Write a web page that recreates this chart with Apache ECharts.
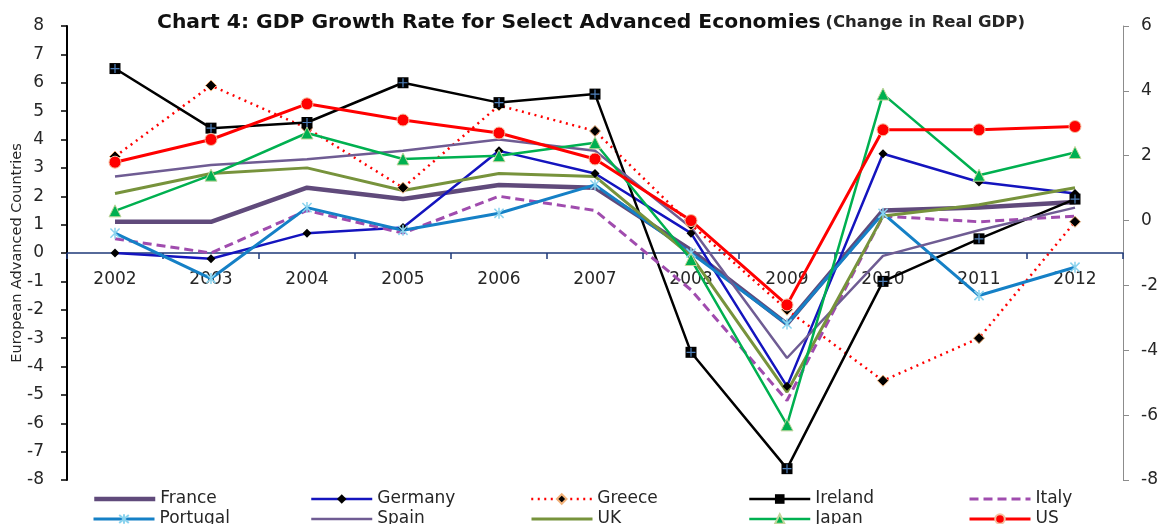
<!DOCTYPE html>
<html>
<head>
<meta charset="utf-8">
<script src="https://cdn.jsdelivr.net/npm/echarts@6/dist/echarts.min.js"></script>
<style>html,body{margin:0;padding:0;background:#fff;}#c{width:1164px;height:524px;}</style>
</head>
<body>
<div id="c"></div>
<script>
const years = ['2002','2003','2004','2005','2006','2007','2008','2009','2010','2011','2012'];
const leftTicks = [-8,-7,-6,-5,-4,-3,-2,-1,0,1,2,3,4,5,6,7,8];
const rightTicks = [-8,-6,-4,-2,0,2,4,6];
// European countries (left axis)
const france   = [1.1, 1.1, 2.3, 1.9, 2.4, 2.3, 0.1, -2.5, 1.5, 1.6, 1.8];
const germany  = [0.0, -0.2, 0.7, 0.9, 3.6, 2.8, 0.7, -4.7, 3.5, 2.5, 2.1];
const greece   = [3.4, 5.9, 4.4, 2.3, 5.2, 4.3, 1.0, -2.0, -4.5, -3.0, 1.1];
const ireland  = [6.5, 4.4, 4.6, 6.0, 5.3, 5.6, -3.5, -7.6, -1.0, 0.5, 1.9];
const italy    = [0.5, 0.0, 1.5, 0.7, 2.0, 1.5, -1.3, -5.2, 1.3, 1.1, 1.3];
const portugal = [0.7, -0.9, 1.6, 0.8, 1.4, 2.4, 0.0, -2.5, 1.4, -1.5, -0.5];
const spain    = [2.7, 3.1, 3.3, 3.6, 4.0, 3.6, 0.9, -3.7, -0.1, 0.8, 1.6];
const uk       = [2.1, 2.8, 3.0, 2.2, 2.8, 2.7, -0.1, -4.9, 1.3, 1.7, 2.3];
// Other advanced economies (right axis)
const japan    = [0.3, 1.4, 2.7, 1.9, 2.0, 2.4, -1.2, -6.3, 3.9, 1.4, 2.1];
const us       = [1.8, 2.5, 3.6, 3.1, 2.7, 1.9, 0.0, -2.6, 2.8, 2.8, 2.9];

const FONT = 'DejaVu Sans';
const W = 1164, H = 524;
const GRID = {left: 67, right: 41, top: 26, bottom: 44, outerBoundsMode: 'none', containLabel: false};
const chart = echarts.init(document.getElementById('c'));

const asterisk = 'path://M0,0L10,10M10,0L0,10M5,-1L5,11';
const crossPath = 'path://M5,0L5,10M0,5L10,5';

function line(name, data, color, width, opts) {
  return Object.assign({
    name: name, type: 'line', data: data, yAxisIndex: 0,
    lineStyle: {color: color, width: width},
    itemStyle: {color: color},
    symbol: 'none', showSymbol: true, symbolSize: 8,
    animation: false, emphasis: {disabled: true}
  }, opts || {});
}

const series = [
  line('France', france, '#604A7B', 4.5),
  line('Germany', germany, '#1414BE', 2.5, {symbol: 'diamond', symbolSize: 9, itemStyle: {color: '#000'}}),
  line('Greece', greece, '#FF0000', 2.5, {symbol: 'diamond', symbolSize: 11,
      lineStyle: {color: '#FF0000', width: 2.5, type: [2, 4.5]},
      itemStyle: {color: '#000', borderColor: '#F2B27A', borderWidth: 1}}),
  line('Ireland', ireland, '#000000', 2.5, {symbol: 'rect', symbolSize: 11, itemStyle: {color: '#000'}}),
  line('Italy', italy, '#A04CAE', 3, {lineStyle: {color: '#A04CAE', width: 3, type: [9, 5]}}),
  line('Portugal', portugal, '#1580C6', 3, {symbol: asterisk, symbolSize: 11, symbolKeepAspect: true,
      itemStyle: {color: 'rgba(0,0,0,0)', borderColor: '#8AD3EE', borderWidth: 1.5}}),
  line('Spain', spain, '#6F5C93', 2.5),
  line('UK', uk, '#77933C', 3),
  line('Japan', japan, '#00B050', 2.5, {yAxisIndex: 1, symbol: 'triangle', symbolSize: 12,
      itemStyle: {color: '#00B050', borderColor: '#C3D69B', borderWidth: 1}}),
  line('US', us, '#FF0000', 3, {yAxisIndex: 1, symbol: 'circle', symbolSize: 12,
      itemStyle: {color: '#FF0000', borderColor: '#F5C0A0', borderWidth: 1}}),
  // blue cross overlay on Ireland markers
  {name: 'IrelandCross', type: 'line', data: ireland, yAxisIndex: 0, lineStyle: {width: 0, opacity: 0},
   symbol: crossPath, symbolSize: 9, itemStyle: {color: 'rgba(0,0,0,0)', borderColor: '#4F81BD', borderWidth: 1.2},
   animation: false, emphasis: {disabled: true}, silent: true}
];

const noSymbol = ['France', 'Italy', 'Spain', 'UK'];
const legendCols = [92, 310, 530, 748, 968];
const legendRows = [489, 509];
const legendOrder = [['France', 'Germany', 'Greece', 'Ireland', 'Italy'],
                     ['Portugal', 'Spain', 'UK', 'Japan', 'US']];
const legends = [];
legendOrder.forEach((row, r) => row.forEach((name, c) => {
  const s = series.find(x => x.name === name);
  const item = {name: name, lineStyle: {width: s.lineStyle.width}};
  if (noSymbol.includes(name)) item.itemStyle = {opacity: 0};
  legends.push({
    left: legendCols[c], top: legendRows[r], padding: 0,
    data: [item],
    itemWidth: 61, itemHeight: 12,
    textStyle: {fontFamily: FONT, fontSize: 17, color: '#262626', lineHeight: 20},
    selectedMode: false
  });
}));

// x axis sits on the zero line of the left axis
const plotH = H - GRID.top - GRID.bottom;
const leftMax = leftTicks[leftTicks.length - 1], leftMin = leftTicks[0];
const xOffset = -plotH * (0 - leftMin) / (leftMax - leftMin);

chart.setOption({
  backgroundColor: '#fff',
  title: {
    left: 157, top: 13, padding: 0,
    text: '{b|Chart 4: GDP Growth Rate for Select Advanced Economies} {s|(Change in Real GDP)}',
    textStyle: {
      rich: {
        b: {fontFamily: FONT, fontWeight: 'bold', fontSize: 20.3, color: '#111'},
        s: {fontFamily: FONT, fontSize: 16.5, color: '#262626'}
      }
    }
  },
  legend: legends,
  grid: GRID,
  xAxis: {
    type: 'category', data: years, boundaryGap: true, offset: xOffset,
    axisLine: {onZero: false, lineStyle: {color: '#1F3A7A', width: 1.5}},
    axisTick: {show: true, length: 6, lineStyle: {color: '#1F3A7A', width: 1.5}},
    axisLabel: {fontFamily: FONT, fontSize: 17, color: '#262626', margin: 18},
    splitLine: {show: false}
  },
  yAxis: [
    {
      type: 'value', min: leftMin, max: leftMax, interval: 1,
      name: 'European Advanced Countries', nameLocation: 'middle', nameGap: 42, nameRotate: 90,
      nameMoveOverlap: false,
      nameTextStyle: {fontFamily: FONT, fontSize: 14.5, color: '#262626'},
      axisLine: {show: true, onZero: false, lineStyle: {color: '#000', width: 2}},
      axisTick: {show: true, length: 6, lineStyle: {color: '#000', width: 1.5}},
      axisLabel: {fontFamily: FONT, fontSize: 17, color: '#262626', margin: 23},
      splitLine: {show: false}
    },
    {
      type: 'value', min: rightTicks[0], max: rightTicks[rightTicks.length - 1], interval: 2,
      position: 'right',
      axisLine: {show: true, onZero: false, lineStyle: {color: '#8C8C8C', width: 1}},
      axisTick: {show: true, length: 6, lineStyle: {color: '#8C8C8C', width: 1}},
      axisLabel: {fontFamily: FONT, fontSize: 17, color: '#262626', margin: 18},
      splitLine: {show: false}
    }
  ],
  series: series
});
</script>
</body>
</html>
